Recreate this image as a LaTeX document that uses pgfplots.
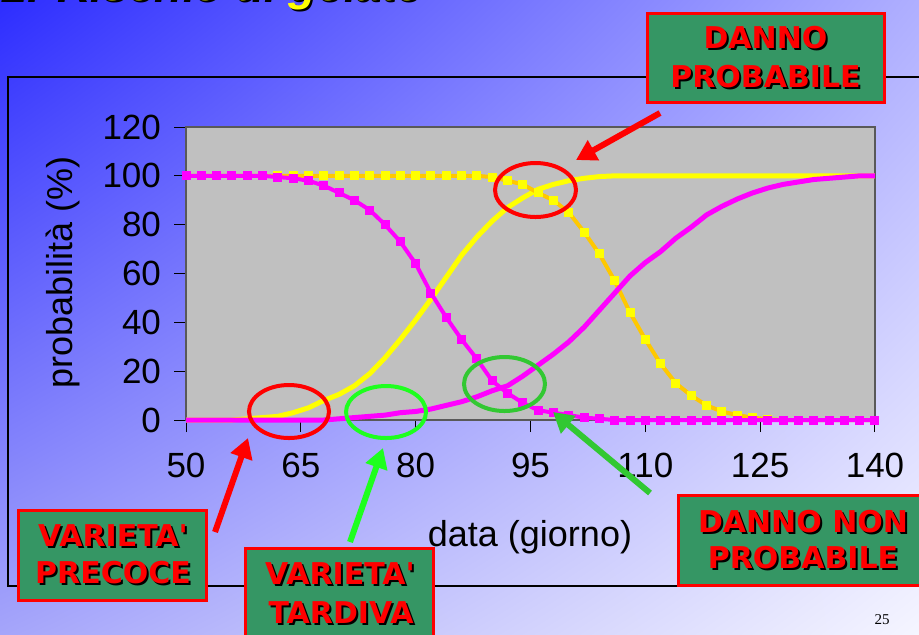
\documentclass[border=0pt]{standalone}
\usepackage{fontspec}
\setmainfont{Liberation Sans}
\newfontfamily\boxfam{DejaVu Sans}
\newfontfamily\serfam{Liberation Serif}
\usepackage{pgfplots}
\pgfplotsset{compat=1.18}
\usetikzlibrary{arrows.meta,shadings}
\definecolor{bgUL}{RGB}{45,45,255}
\definecolor{bgUR}{RGB}{175,175,255}
\definecolor{bgLL}{RGB}{165,165,250}
\definecolor{bgLR}{RGB}{245,245,255}
\definecolor{plotgray}{RGB}{192,192,192}
\definecolor{myyellow}{RGB}{255,255,0}
\definecolor{myorange}{RGB}{255,200,0}
\definecolor{mymagenta}{RGB}{255,0,255}
\definecolor{boxgreen}{RGB}{53,150,100}
\definecolor{boxred}{RGB}{255,0,0}
\definecolor{ellgreen}{RGB}{50,200,50}
\definecolor{limegreen}{RGB}{30,255,30}
\newcommand\boxfnt{\boxfam\bfseries\fontsize{15}{18}\selectfont}
\newcommand\shtext[3]{%
  \node[text=black,font=\boxfnt,inner sep=0] at (#1+2,#2+2) {#3};
  \node[text=boxred,font=\boxfnt,inner sep=0] at (#1,#2) {#3};}
\begin{document}
\begin{tikzpicture}
\useasboundingbox (0,0) rectangle (459.5pt,-317pt);
\clip (0,0) rectangle (459.5pt,-317pt);
\shade[upper left=bgUL, upper right=bgUR, lower left=bgLL, lower right=bgLR] (0,0) rectangle (459.5pt,-317pt);
\begin{scope}[x=0.5pt,y=-0.5pt]
\draw[black, line width=0.6pt] (8,77) rectangle (935,586);
\node[anchor=base west, inner sep=0, text=black, font=\bfseries\itshape\fontsize{23}{27}\selectfont] at (2,2) {2. Rischio di gelate};
\node[anchor=base west, inner sep=0, text=myyellow, font=\bfseries\itshape\fontsize{23}{27}\selectfont] at (0,0) {2. Rischio di gelate};
\end{scope}
\begin{axis}[
  at={(93pt,-210pt)}, anchor=south west,
  scale only axis, width=344.5pt, height=146.5pt,
  xmin=50, xmax=140, ymin=0, ymax=120,
  xtick={50,65,...,140}, ytick={0,20,...,120},
  xtick pos=bottom, ytick pos=left,
  tick align=outside, major tick length=6pt,
  tick style={black, line width=0.5pt},
  axis line style={draw=gray!70!black, line width=0.6pt},
  axis background/.style={fill=plotgray},
  /pgf/number format/assume math mode=true,
  ticklabel style={font=\fontsize{17.5}{21}\selectfont},
  xticklabel style={yshift=-7pt},
  yticklabel style={xshift=-3pt},
  xlabel={data (giorno)}, ylabel={probabilità (\%)},
  label style={font=\fontsize{18}{21}\selectfont},
  xlabel style={at={(axis description cs:0.4993,-0.399)}, anchor=center},
  ylabel style={at={(axis description cs:-0.1785,0.505)}, anchor=center},
  clip=false,
]
% yellow rising (early variety)
\addplot[myyellow, line width=2.5pt] coordinates {
(50,0)(52,0)(54,0)(56,0)(58,0.5)(60,1)(62,1.5)(64,3)(66,5)(68,8)(70,10.5)(72,14)(74,19)(76,25.5)(78,33)(80,41)(82,49.5)(84,58.5)(86,67.5)(88,75)(90,81.5)(92,87)(94,91)(96,94.5)(98,96.5)(100,98)(102,99)(104,99.7)(106,100)(110,100)(120,100)(130,100)(140,100)};
% yellow falling
\addplot[myorange, line width=2pt, mark=square*, mark size=1.25pt, mark options={fill=myyellow, draw=myyellow}] coordinates {
(50,100)(52,100)(54,100)(56,100)(58,100)(60,100)(62,100)(64,100)(66,100)(68,100)(70,100)(72,100)(74,100)(76,100)(78,100)(80,100)(82,100)(84,100)(86,100)(88,100)(90,99.5)(92,98)(94,96.5)(96,93)(98,90)(100,85)(102,77)(104,68)(106,57)(108,44)(110,33)(112,23)(114,15)(116,10)(118,6)(120,3.5)(122,2)(124,1)(126,0.3)(128,0)(130,0)(132,0)(134,0)(136,0)(138,0)(140,0)};
% magenta rising (late variety)
\addplot[mymagenta, line width=2.5pt] coordinates {
(50,0)(52,0)(54,0)(56,0)(58,0)(60,0)(62,0)(64,0)(66,0)(68,0)(70,0.5)(72,1)(74,1.5)(76,2)(78,3)(80,3.5)(82,4.5)(84,6)(86,7.5)(88,9.5)(90,12)(92,14)(94,18)(96,22.5)(98,27)(100,32)(102,38)(104,45)(106,52)(108,59)(110,64.5)(112,69)(114,74.5)(116,79)(118,84)(120,87.5)(122,90.5)(124,93)(126,95)(128,96.5)(130,97.5)(132,98.5)(134,99)(136,99.5)(138,100)(140,100)};
% magenta falling
\addplot[mymagenta, line width=2pt, mark=square*, mark size=1.25pt] coordinates {
(50,100)(52,100)(54,100)(56,100)(58,100)(60,100)(62,99.5)(64,99)(66,98)(68,96)(70,93)(72,90)(74,86)(76,80)(78,73)(80,64)(82,52)(84,42)(86,33)(88,25)(90,16)(92,11)(94,7)(96,4)(98,3)(100,2)(102,1)(104,0.5)(106,0)(108,0)(110,0)(112,0)(114,0)(116,0)(118,0)(120,0)(122,0)(124,0)(126,0)(128,0)(130,0)(132,0)(134,0)(136,0)(138,0)(140,0)};
\end{axis}
\begin{scope}[x=0.5pt,y=-0.5pt]
% ellipses
\draw[boxred, line width=2pt] (535.5,190) ellipse [x radius=40.5, y radius=27];
\draw[boxred, line width=2pt] (289,411.5) ellipse [x radius=40, y radius=26.5];
\draw[limegreen, line width=2pt] (386,412) ellipse [x radius=40, y radius=26];
\draw[ellgreen, line width=2pt] (504.5,384) ellipse [x radius=40.5, y radius=27];
% arrows
\draw[boxred, line width=3pt, -{Triangle[length=10pt,width=11pt]}] (660,113) -- (576,160);
\draw[ellgreen, line width=3pt, -{Triangle[length=10pt,width=11pt]}] (650,493) -- (553,412);
\draw[boxred, line width=3pt, -{Triangle[length=10pt,width=11pt]}] (215,532) -- (248,438);
\draw[limegreen, line width=3pt, -{Triangle[length=10pt,width=11pt]}] (350,542) -- (383,448);
% boxes
\draw[boxred, fill=boxgreen, line width=1.5pt] (647,13) rectangle (884,102);
\draw[boxred, fill=boxgreen, line width=1.5pt] (18,510) rectangle (206,600);
\draw[boxred, fill=boxgreen, line width=1.5pt] (245,548) rectangle (433,650);
\draw[boxred, fill=boxgreen, line width=1.5pt] (678,495) rectangle (932,585);
\shtext{765.5}{38}{DANNO}
\shtext{765.5}{77}{PROBABILE}
\shtext{113}{536}{VARIETA'}
\shtext{113}{573}{PRECOCE}
\shtext{340}{574}{VARIETA'}
\shtext{341}{613}{TARDIVA}
\shtext{803}{522}{DANNO NON}
\shtext{803}{558}{PROBABILE}
\node[font=\serfam\fontsize{7.5}{9}\selectfont, inner sep=0] at (882,620) {25};
\end{scope}
\end{tikzpicture}
\end{document}
